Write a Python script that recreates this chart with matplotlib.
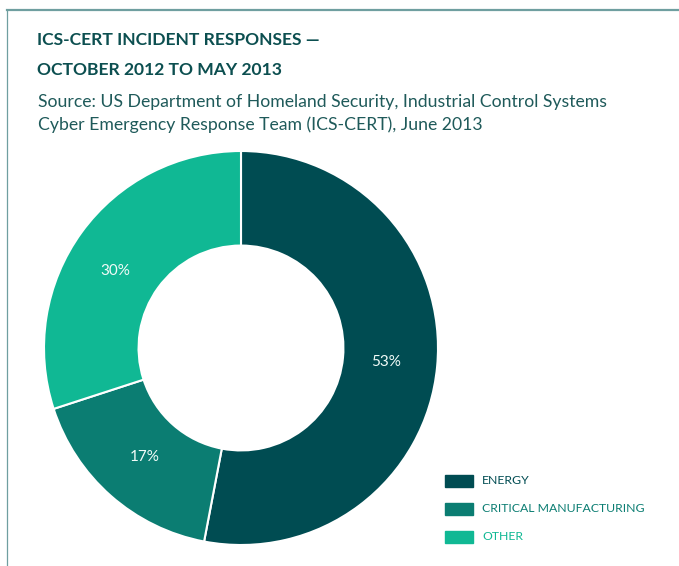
import matplotlib
matplotlib.use("Agg")
import numpy as np
import matplotlib.pyplot as plt
from matplotlib.lines import Line2D
from matplotlib.patches import Rectangle

plt.rcParams['font.family'] = ['Lato', 'DejaVu Sans']

# data
categories = ["ENERGY", "CRITICAL MANUFACTURING", "OTHER"]
shares = [53, 17, 30]
colors = ["#004c52", "#0b7d72", "#10b894"]

title_lines = ["ICS-CERT INCIDENT RESPONSES \u2014", "OCTOBER 2012 TO MAY 2013"]
source_lines = ["Source: US Department of Homeland Security, Industrial Control Systems",
                "Cyber Emergency Response Team (ICS-CERT), June 2013"]

W, H = 679, 566
fig = plt.figure(figsize=(W / 100, H / 100), dpi=100)

# frame lines (top and left)
fig.add_artist(Line2D([7 / W, 1], [1 - 10 / H, 1 - 10 / H], color="#6f9fa0", lw=1.6))
fig.add_artist(Line2D([7 / W, 7 / W], [1 - 10 / H, 0], color="#6f9fa0", lw=0.9))

# titles
fig.text(37 / W, 1 - 40 / H, title_lines[0], fontsize=12.6, fontweight="bold",
         color="#0c4f50", va="center")
fig.text(37 / W, 1 - 70 / H, title_lines[1], fontsize=12.6, fontweight="bold",
         color="#0c4f50", va="center")
fig.text(38 / W, 1 - 102 / H, source_lines[0], fontsize=12.7, color="#1f5a5a", va="center")
fig.text(38 / W, 1 - 125 / H, source_lines[1], fontsize=12.7, color="#1f5a5a", va="center")

# donut
cx, cy, r = 241, 348, 197
ax = fig.add_axes([(cx - r) / W, 1 - (cy + r) / H, 2 * r / W, 2 * r / H])
wedges, texts, autotexts = ax.pie(
    shares, colors=colors, startangle=90, counterclock=False,
    autopct=lambda p: "%d%%" % round(p), pctdistance=0.74,
    wedgeprops=dict(width=0.48, edgecolor="white", linewidth=1.5),
    textprops=dict(color="#f2fbf8", fontsize=11))
# the OTHER label sits a little lower than the wedge middle in the source
a = np.deg2rad(148.5)
autotexts[2].set_position((0.75 * np.cos(a), 0.75 * np.sin(a)))
ax.set_xlim(-1.0, 1.0)
ax.set_ylim(-1.0, 1.0)
ax.set_aspect("auto")
ax.axis("off")

# legend
for i, (lab, col) in enumerate(zip(categories, colors)):
    y = 481 + 28 * i
    fig.add_artist(Rectangle((445 / W, 1 - (y + 6) / H), 28 / W, 12 / H,
                             transform=fig.transFigure, color=col))
    fig.text(482 / W, 1 - y / H, lab, fontsize=8.8, color=col, va="center")

fig.savefig("out.png", dpi=100, facecolor="white")
